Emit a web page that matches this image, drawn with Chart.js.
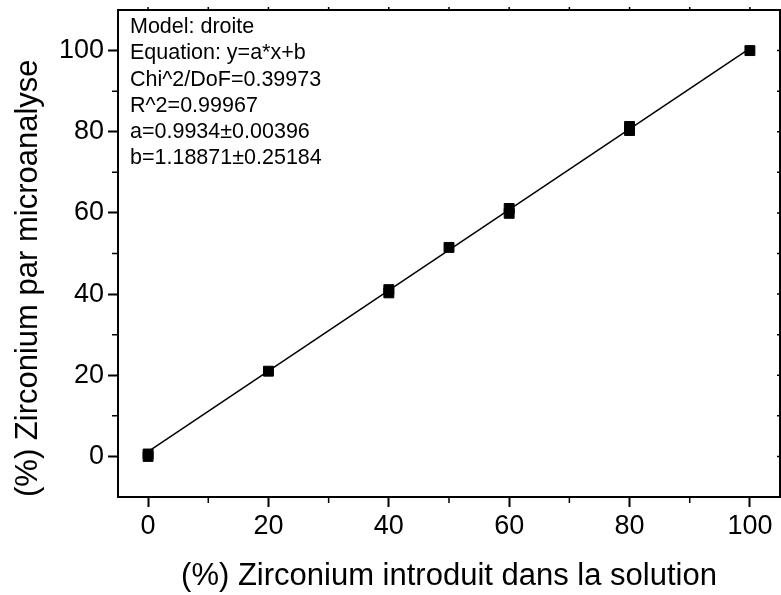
<!DOCTYPE html>
<html>
<head>
<meta charset="utf-8">
<title>Zirconium - droite d'étalonnage</title>
<script src="https://cdn.jsdelivr.net/npm/chart.js@4/dist/chart.umd.min.js"></script>
<style>
  html, body { margin: 0; padding: 0; background: #fff; }
</style>
</head>
<body>
<canvas id="fitChart" width="781" height="595"></canvas>
<script>
/* global Chart */

// measured points (% introduced vs % found by microanalysis)
const xMeasured = [0, 0, 20, 40, 40, 50, 60, 60, 80, 80, 100];
const yMeasured = [0, 0.6, 21, 40.3, 41.1, 51.5, 59.9, 61.1, 80.3, 81.3, 100];

// linear fit results
const fitA = 0.9934;
const fitB = 1.18871;
const fitX = [0, 100];
const fitText = [
  'Model: droite',
  'Equation: y=a*x+b',
  'Chi^2/DoF=0.39973',
  'R^2=0.99967',
  'a=0.9934\u00b10.00396',
  'b=1.18871\u00b10.25184'
];

// axes
const xMajor = [0, 20, 40, 60, 80, 100];
const xMinor = [10, 30, 50, 70, 90];
const yMajor = [0, 20, 40, 60, 80, 100];
const yMinor = [-10, 10, 30, 50, 70, 90, 110];
const xTitle = '(%) Zirconium introduit dans la solution';
const yTitle = '(%) Zirconium par microanalyse';

const FONT = "'Liberation Sans', Arial, sans-serif";

// frame, minor ticks and fit parameters text
const framePlugin = {
  id: 'frame',
  afterDraw(chart) {
    const { ctx, chartArea: a, scales: { x, y } } = chart;
    ctx.save();
    ctx.strokeStyle = '#000';
    ctx.lineWidth = 2;
    ctx.beginPath();
    ctx.moveTo(a.left, a.top);
    ctx.lineTo(a.right, a.top);
    ctx.lineTo(a.right, a.bottom);
    ctx.stroke();

    ctx.lineWidth = 1.5;
    ctx.beginPath();
    xMinor.forEach(v => {
      const px = x.getPixelForValue(v);
      ctx.moveTo(px, a.bottom);
      ctx.lineTo(px, a.bottom + 6);
    });
    yMinor.forEach(v => {
      const py = y.getPixelForValue(v);
      if (py <= a.top + 1 || py >= a.bottom - 1) return;
      ctx.moveTo(a.left, py);
      ctx.lineTo(a.left - 6, py);
    });
    xMajor.concat(xMinor).forEach(v => {
      const px = x.getPixelForValue(v);
      ctx.moveTo(px, a.top);
      ctx.lineTo(px, a.top - 3);
    });
    yMajor.concat(yMinor).forEach(v => {
      const py = y.getPixelForValue(v);
      if (py <= a.top + 1 || py >= a.bottom - 1) return;
      ctx.moveTo(a.right, py);
      ctx.lineTo(a.right - 3, py);
    });
    ctx.stroke();

    ctx.fillStyle = '#000';
    ctx.font = '21.5px ' + FONT;
    ctx.textBaseline = 'middle';
    ctx.textAlign = 'left';
    fitText.forEach((t, i) => {
      ctx.fillText(t, a.left + 12, a.top + 17 + i * 26.3);
    });
    ctx.restore();
  }
};

const ctx = document.getElementById('fitChart');
new Chart(ctx, {
  type: 'scatter',
  data: {
    datasets: [
      {
        label: 'mesures',
        data: xMeasured.map((v, i) => ({ x: v, y: yMeasured[i] })),
        pointStyle: 'rect',
        pointRadius: 7,
        pointBackgroundColor: '#000',
        pointBorderColor: '#000',
        pointBorderWidth: 1,
        showLine: false,
        order: 0
      },
      {
        label: 'droite',
        data: fitX.map(v => ({ x: v, y: fitA * v + fitB })),
        showLine: true,
        borderColor: '#000',
        borderWidth: 1.5,
        pointRadius: 0,
        order: 1
      }
    ]
  },
  options: {
    responsive: false,
    animation: false,
    devicePixelRatio: 1,
    layout: { autoPadding: false, padding: { top: 10, right: 1, left: 0, bottom: 0 } },
    plugins: {
      legend: { display: false },
      tooltip: { enabled: false }
    },
    scales: {
      x: {
        type: 'linear',
        position: 'bottom',
        min: -5,
        max: 105,
        afterBuildTicks: s => { s.ticks = xMajor.map(v => ({ value: v })); },
        afterFit: s => { s.height = 98; s.paddingLeft = 0; s.paddingRight = 0; },
        ticks: { color: '#000', font: { family: FONT, size: 27 }, padding: 3 },
        grid: { drawOnChartArea: false, tickLength: 10, tickWidth: 2, tickColor: '#000' },
        border: { color: '#000', width: 2 },
        title: { display: true, text: xTitle, color: '#000', font: { family: FONT, size: 31 }, padding: { top: 0, bottom: 0 } }
      },
      y: {
        type: 'linear',
        position: 'left',
        min: -10,
        max: 110,
        afterBuildTicks: s => { s.ticks = yMajor.map(v => ({ value: v })); },
        afterFit: s => { s.width = 118; s.paddingTop = 0; s.paddingBottom = 0; },
        ticks: { color: '#000', font: { family: FONT, size: 27 }, padding: 4 },
        grid: { drawOnChartArea: false, tickLength: 10, tickWidth: 2, tickColor: '#000' },
        border: { color: '#000', width: 2 },
        title: { display: true, text: yTitle, align: 'start', color: '#000', font: { family: FONT, size: 31 }, padding: { top: 10, bottom: 0 } }
      }
    }
  },
  plugins: [framePlugin]
});
</script>
</body>
</html>
